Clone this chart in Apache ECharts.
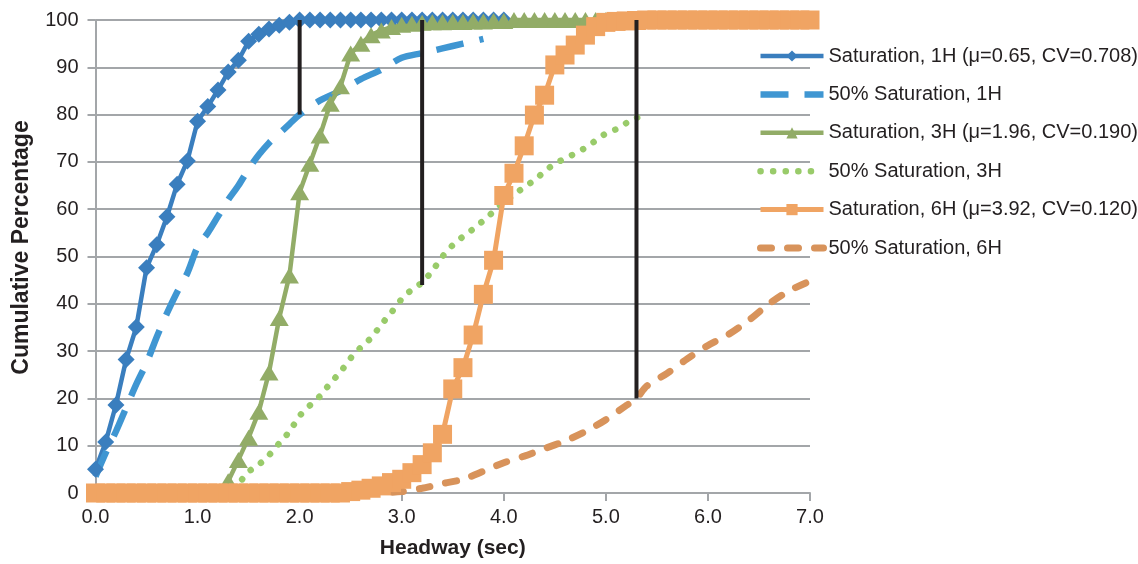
<!DOCTYPE html>
<html>
<head>
<meta charset="utf-8">
<script src="https://cdn.jsdelivr.net/npm/echarts@6/dist/echarts.min.js"></script>
<style>
html,body{margin:0;padding:0;background:#fff;}
#chart{width:1138px;height:564px;}
</style>
</head>
<body>
<div id="chart"></div>
<script>
// ---- tick labels ----
const headwayTicks = ['0.0','1.0','2.0','3.0','4.0','5.0','6.0','7.0'];
const pctTicks = ['0','10','20','30','40','50','60','70','80','90','100'];

// ---- series names ----
const seriesNames = [
  'Saturation, 1H (\u03bc=0.65, CV=0.708)',
  '50% Saturation, 1H',
  'Saturation, 3H (\u03bc=1.96, CV=0.190)',
  '50% Saturation, 3H',
  'Saturation, 6H (\u03bc=3.92, CV=0.120)',
  '50% Saturation, 6H'
];

// ---- data: [headway (sec), cumulative %] ----
const sat1H = [[0.0,5],[0.1,10.8],[0.2,18.6],[0.3,28.2],[0.4,35.1],[0.5,47.6],[0.6,52.5],[0.7,58.4],[0.8,65.3],[0.9,70.2],
  [1.0,78.6],[1.1,81.7],[1.2,85.2],[1.3,89],[1.4,91.5],[1.5,95.5],[1.6,97],[1.7,98.1],[1.8,98.9],[1.9,99.5],
  [2.0,100],[2.1,100],[2.2,100],[2.3,100],[2.4,100],[2.5,100],[2.6,100],[2.7,100],[2.8,100],[2.9,100],
  [3.0,100],[3.1,100],[3.2,100],[3.3,100],[3.4,100],[3.5,100],[3.6,100],[3.7,100],[3.8,100],[3.9,100],[4.0,100]];

const half1H = [[0.0,3.5],[0.1,8.5],[0.2,13],[0.3,18],[0.4,23],[0.5,27.5],[0.6,33],[0.7,38],[0.8,42.5],[0.9,46.5],
  [1.0,52],[1.1,55],[1.2,58.5],[1.3,62],[1.4,65],[1.5,68.5],[1.6,71.5],[1.7,74],[1.8,76],[1.9,78],
  [2.0,80],[2.2,83],[2.4,85],[2.6,87.5],[2.8,89.5],[3.0,92],[3.2,93],[3.4,94],[3.6,95],[3.8,96]];

const sat3H = [[0.0,0],[0.1,0],[0.2,0],[0.3,0],[0.4,0],[0.5,0],[0.6,0],[0.7,0],[0.8,0],[0.9,0],
  [1.0,0],[1.1,0],[1.2,0],[1.3,2.5],[1.4,7],[1.5,11.7],[1.6,17.2],[1.7,25.5],[1.8,37],[1.9,46],
  [2.0,63.6],[2.1,69.6],[2.2,75.6],[2.3,82.3],[2.4,86],[2.5,92.9],[2.6,95],[2.7,96.8],[2.8,97.8],[2.9,98.5],
  [3.0,99],[3.1,99.2],[3.2,99.4],[3.3,99.5],[3.4,99.5],[3.5,99.6],[3.6,99.6],[3.7,99.7],[3.8,99.7],[3.9,99.8],
  [4.0,99.8],[4.1,100],[4.2,100],[4.3,100],[4.4,100],[4.5,100],[4.6,100],[4.7,100],[4.8,100],[4.9,100],
  [5.0,100],[5.1,100],[5.2,100],[5.3,100],[5.4,100]];

const half3H = [[0.0,0],[0.4,0],[0.8,0],[1.2,0],[1.3,0.5],[1.4,2],[1.5,4.5],[1.6,6],[1.7,8],[1.8,10.5],[1.9,13],
  [2.0,16.3],[2.1,18.5],[2.2,20.5],[2.3,23.2],[2.4,25.6],[2.5,28.5],[2.6,30.8],[2.7,32.8],[2.8,35.6],[2.9,38.2],
  [3.0,41],[3.1,43],[3.2,44.5],[3.3,47],[3.4,50],[3.5,52.4],[3.6,54.2],[3.7,55.8],[3.8,57.6],[3.9,59.5],
  [4.0,61.5],[4.1,63],[4.2,64.7],[4.3,66.1],[4.4,68],[4.5,69.6],[4.6,70.7],[4.7,71.8],[4.8,73],[4.9,74.5],
  [5.0,76],[5.1,76.9],[5.2,78.2],[5.3,79.3],[5.4,80.2]];

const sat6H = [[0.0,0],[0.1,0],[0.2,0],[0.3,0],[0.4,0],[0.5,0],[0.6,0],[0.7,0],[0.8,0],[0.9,0],
  [1.0,0],[1.1,0],[1.2,0],[1.3,0],[1.4,0],[1.5,0],[1.6,0],[1.7,0],[1.8,0],[1.9,0],
  [2.0,0],[2.1,0],[2.2,0],[2.3,0],[2.4,0],[2.5,0.3],[2.6,0.6],[2.7,1],[2.8,1.5],[2.9,2.2],
  [3.0,2.9],[3.1,4.3],[3.2,6],[3.3,8.5],[3.4,12.4],[3.5,22],[3.6,26.5],[3.7,33.4],[3.8,42],[3.9,49.2],
  [4.0,62.9],[4.1,67.6],[4.2,73.4],[4.3,79.9],[4.4,84.1],[4.5,90.5],[4.6,92.6],[4.7,94.7],[4.8,96.8],[4.9,98.6],
  [5.0,99.5],[5.1,99.7],[5.2,99.8],[5.3,99.9],[5.4,100],[5.5,100],[5.6,100],[5.7,100],[5.8,100],[5.9,100],
  [6.0,100],[6.1,100],[6.2,100],[6.3,100],[6.4,100],[6.5,100],[6.6,100],[6.7,100],[6.8,100],[6.9,100],[7.0,100]];

const half6H = [[0.0,0],[0.4,0],[0.8,0],[1.2,0],[1.6,0],[2.0,0],[2.4,0],[2.8,0.1],[3.0,0.3],[3.2,1],[3.4,2],
  [3.6,2.9],[3.8,4.6],[4.0,6.4],[4.2,7.8],[4.4,9.4],[4.6,11],[4.8,13],[5.0,15.5],[5.2,18.5],[5.3,20],
  [5.4,22.6],[5.6,25.3],[5.8,28.4],[6.0,31.2],[6.2,33.5],[6.4,36.5],[6.6,40],[6.8,42.8],[7.0,44.8]];

// vertical gap markers: [headway, lower %, upper %]
const gapLines = [[2.0,80,100],[3.2,44,100],[5.3,20,100]];

// ---- styling ----
const FONT = 'Liberation Sans, Arial, Helvetica, sans-serif';
const TXT = '#231F20';
const GRAY = '#A3A6A9';
const C = {
  b1: '#3A7EBE', b2: '#3F96D2',
  g1: '#92AC67', g2: '#99CB6A',
  o1: '#F0A463', o2: '#D8935B'
};

const series = [
  { name: seriesNames[0], type: 'line', data: sat1H, clip: false,
    symbol: 'diamond', symbolSize: [17, 17],
    itemStyle: { color: C.b1 }, lineStyle: { color: C.b1, width: 4.5 } },
  { name: seriesNames[1], type: 'line', data: half1H, clip: false, smooth: 0.3,
    symbol: 'none',
    itemStyle: { color: C.b2 }, lineStyle: { color: C.b2, width: 6.5, type: [28, 16], cap: 'butt' } },
  { name: seriesNames[2], type: 'line', data: sat3H, clip: false,
    symbol: 'triangle', symbolSize: [19, 16],
    itemStyle: { color: C.g1 }, lineStyle: { color: C.g1, width: 4.5 } },
  { name: seriesNames[3], type: 'line', data: half3H, clip: false, smooth: 0.3,
    symbol: 'none',
    itemStyle: { color: C.g2 }, lineStyle: { color: C.g2, width: 6.5, type: [0.1, 12.5], cap: 'round' } },
  { name: seriesNames[4], type: 'line', data: sat6H, clip: false,
    symbol: 'rect', symbolSize: 19,
    itemStyle: { color: C.o1 }, lineStyle: { color: C.o1, width: 5 } },
  { name: seriesNames[5], type: 'line', data: half6H, clip: false, smooth: 0.3,
    symbol: 'none',
    itemStyle: { color: C.o2 }, lineStyle: { color: C.o2, width: 7, type: [11, 16], cap: 'round' } }
];

gapLines.forEach((g, i) => {
  series.push({
    name: 'gap' + i, type: 'line', clip: false, symbol: 'none', z: 5,
    data: [[g[0], g[1]], [g[0], g[2]]],
    lineStyle: { color: TXT, width: 4, cap: 'butt' }
  });
});

const legendData = [
  { name: seriesNames[0], lineStyle: { width: 4.5 } },
  { name: seriesNames[1], lineStyle: { width: 6.5 }, itemStyle: { opacity: 0 } },
  { name: seriesNames[2], lineStyle: { width: 4.5 } },
  { name: seriesNames[3], lineStyle: { width: 6.5 }, itemStyle: { opacity: 0 } },
  { name: seriesNames[4], lineStyle: { width: 5 } },
  { name: seriesNames[5], lineStyle: { width: 7 }, itemStyle: { opacity: 0 } }
];

const chart = echarts.init(document.getElementById('chart'), null, { renderer: 'canvas' });
chart.setOption({
  animation: false,
  backgroundColor: '#fff',
  textStyle: { fontFamily: FONT, color: TXT },
  grid: { left: 95.5, right: 328, top: 20, bottom: 71, containLabel: false },
  legend: {
    data: legendData, orient: 'vertical', left: 757, top: 46, padding: 0,
    itemWidth: 63, itemHeight: 14, itemGap: 18.4, selectedMode: false,
    textStyle: { fontFamily: FONT, fontSize: 20, color: TXT, lineHeight: 20 }
  },
  xAxis: {
    type: 'value', min: 0, max: 7, interval: 1,
    name: 'Headway (sec)', nameLocation: 'middle', nameGap: 45,
    nameTextStyle: { fontFamily: FONT, fontSize: 21, fontWeight: 'bold', color: TXT },
    axisLine: { show: true, lineStyle: { color: GRAY, width: 2 } },
    axisTick: { show: true, length: 8, lineStyle: { color: GRAY, width: 2 } },
    axisLabel: { margin: 14, fontSize: 20, color: TXT, fontFamily: FONT,
      formatter: v => headwayTicks[Math.round(v)] },
    splitLine: { show: false }
  },
  yAxis: {
    type: 'value', min: 0, max: 100, interval: 10,
    name: 'Cumulative Percentage', nameLocation: 'middle', nameGap: 62,
    nameTextStyle: { fontFamily: FONT, fontSize: 23, fontWeight: 'bold', color: TXT, padding: [0, 0, 0, 18] },
    axisLine: { show: true, lineStyle: { color: GRAY, width: 2 } },
    axisTick: { show: true, length: 8, lineStyle: { color: GRAY, width: 2 } },
    axisLabel: { margin: 17, fontSize: 20, color: TXT, fontFamily: FONT,
      formatter: v => pctTicks[Math.round(v / 10)] },
    splitLine: { show: true, lineStyle: { color: GRAY, width: 2 } }
  },
  series: series
});
</script>
</body>
</html>
